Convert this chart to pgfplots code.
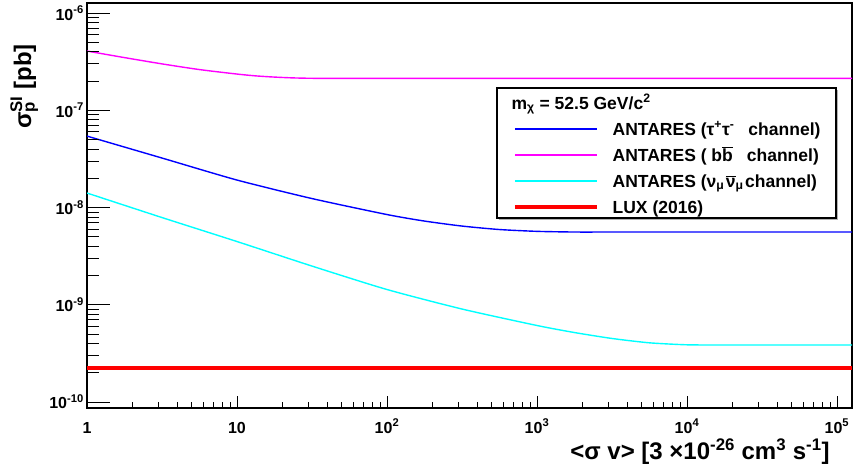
\documentclass[border=0pt]{standalone}
\usepackage{pgfplots}
\pgfplotsset{compat=1.18}
\usepackage{fontspec}
\setmainfont{Liberation Sans}
\definecolor{rblue}{RGB}{0,0,255}
\definecolor{rmag}{RGB}{255,0,255}
\definecolor{rcyan}{RGB}{0,255,255}
\definecolor{rred}{RGB}{255,0,0}
\begin{document}
\begin{tikzpicture}
\path[use as bounding box] (0,0) rectangle (855bp,473bp);
\begin{axis}[
  at={(87bp,65bp)}, anchor=south west,
  scale only axis, width=765bp, height=405bp,
  xmode=log, ymode=log,
  xmin=1, xmax=1.26e5, ymin=8.67e-11, ymax=1.27e-6,
  axis line style={line width=1.4bp},
  xtick={1,10,100,1000,10000,100000},
  xticklabels={1,10,10\textsuperscript{2},10\textsuperscript{3},10\textsuperscript{4},10\textsuperscript{5}},
  xtick pos=bottom, tick align=inside,
  major tick length=12bp, minor tick length=6bp,
  ytick=\empty,
  tick style={black, line width=0.9bp},
  xticklabel style={font=\bfseries\fontsize{16bp}{16bp}\selectfont, anchor=base, inner sep=0pt, yshift=-25bp},
  xlabel={<σ v> [3 ×10\textsuperscript{-26} cm\textsuperscript{3} s\textsuperscript{-1}]},
  xlabel style={at={(axis description cs:0.971,-0.128)}, anchor=base east, inner sep=0pt,
    font=\bfseries\fontsize{24bp}{24bp}\selectfont},
  legend style={at={(axis description cs:0.5359,0.7901)}, anchor=north west, draw=none, fill=none,
    inner xsep=16bp, inner ysep=7bp, row sep=10bp, column sep=14bp,
    font=\bfseries\fontsize{17.5bp}{18bp}\selectfont,
    nodes={inner sep=0pt, text height=14bp, text depth=2bp}},
  legend cell align=left,
  legend image code/.code={\draw[#1] (0bp,0.6bp) -- (82bp,0.6bp); \draw[#1] (0bp,-0.4bp) -- (82bp,-0.4bp);},
]
\fill[gray!60] ([xshift=1.6bp,yshift=-1.6bp]axis description cs:0.5359,0.7901) rectangle ([xshift=1.6bp,yshift=-1.6bp]axis description cs:0.9791,0.4691);
\draw[fill=white, line width=1.1bp] (axis description cs:0.5359,0.7901) rectangle (axis description cs:0.9791,0.4691);
\addlegendimage{empty legend}
\addlegendentry{\hspace*{-101bp}m\textsubscript{χ} = 52.5 GeV/c\textsuperscript{2}}
\addplot[color=rblue, line width=1.4bp, smooth, tension=0.4] coordinates {
 (1,5.43e-8) (3.162,3.23e-8) (10,1.918e-8) (31.62,1.237e-8) (100,8.47e-9) (177.8,7.26e-9)
 (316.2,6.45e-9) (562.3,5.94e-9) (1000,5.69e-9) (1778,5.6e-9) (3162,5.6e-9) (10000,5.6e-9)
 (31620,5.6e-9) (126000,5.6e-9)};
\addlegendentry{ANTARES (τ\textsuperscript{+}τ\textsuperscript{-}\hspace{0.8em}channel)}
\addplot[color=rmag, line width=1.4bp, smooth, tension=0.4] coordinates {
 (1,4.07e-7) (1.778,3.485e-7) (3.162,3.003e-7) (5.623,2.624e-7) (10,2.36e-7) (13.34,2.26e-7)
 (17.78,2.197e-7) (23.7,2.155e-7) (31.62,2.135e-7) (56.2,2.13e-7) (100,2.13e-7) (316,2.13e-7)
 (1000,2.13e-7) (3162,2.13e-7) (10000,2.13e-7) (31620,2.13e-7) (126000,2.13e-7)};
\addlegendentry{ANTARES ( b$\overline{\mbox{b}}$\hspace{0.8em}channel)}
\addplot[color=rcyan, line width=1.4bp, smooth, tension=0.4] coordinates {
 (1,1.41e-8) (3.162,7.89e-9) (10,4.47e-9) (31.62,2.50e-9) (100,1.435e-9) (316.2,9.04e-10)
 (1000,6.12e-10) (1778,5.18e-10) (3162,4.50e-10) (5623,4.06e-10) (10000,3.875e-10)
 (17783,3.857e-10) (31620,3.857e-10) (63000,3.857e-10) (126000,3.857e-10)};
\addlegendentry{ANTARES (ν\textsubscript{μ}\kern1.5bp$\overline{\mbox{ν}}$\textsubscript{μ}\kern1.5bp channel)}
\addplot[color=rred, line width=3.5bp] coordinates {(1,2.24e-10) (126000,2.24e-10)};
\addlegendentry{LUX (2016)}
\end{axis}
\begin{axis}[
  at={(87bp,65bp)}, anchor=south west,
  scale only axis, width=765bp, height=405bp,
  xmode=log, ymode=log,
  xmin=1, xmax=1.26e5, ymin=8.67e-11, ymax=1.27e-6,
  axis line style={draw=none},
  xtick=\empty,
  ytick={1e-10,1e-9,1e-8,1e-7,1e-6},
  yticklabels={10\textsuperscript{-10},10\textsuperscript{-9},10\textsuperscript{-8},10\textsuperscript{-7},10\textsuperscript{-6}},
  ytick pos=left, tick align=inside,
  major tick length=23bp, minor tick length=12bp,
  tick style={black, line width=0.9bp},
  yticklabel style={font=\bfseries\fontsize{16bp}{16bp}\selectfont, anchor=east, inner sep=0pt, xshift=-3bp},
  ylabel={σ\makebox[0pt][l]{\textsubscript{p}}\textsuperscript{SI} [pb]},
  ylabel style={at={(axis description cs:-0.0732,0.8988)}, anchor=base east, inner sep=0pt,
    font=\bfseries\fontsize{24bp}{24bp}\selectfont},
]
\end{axis}
\end{tikzpicture}
\end{document}
